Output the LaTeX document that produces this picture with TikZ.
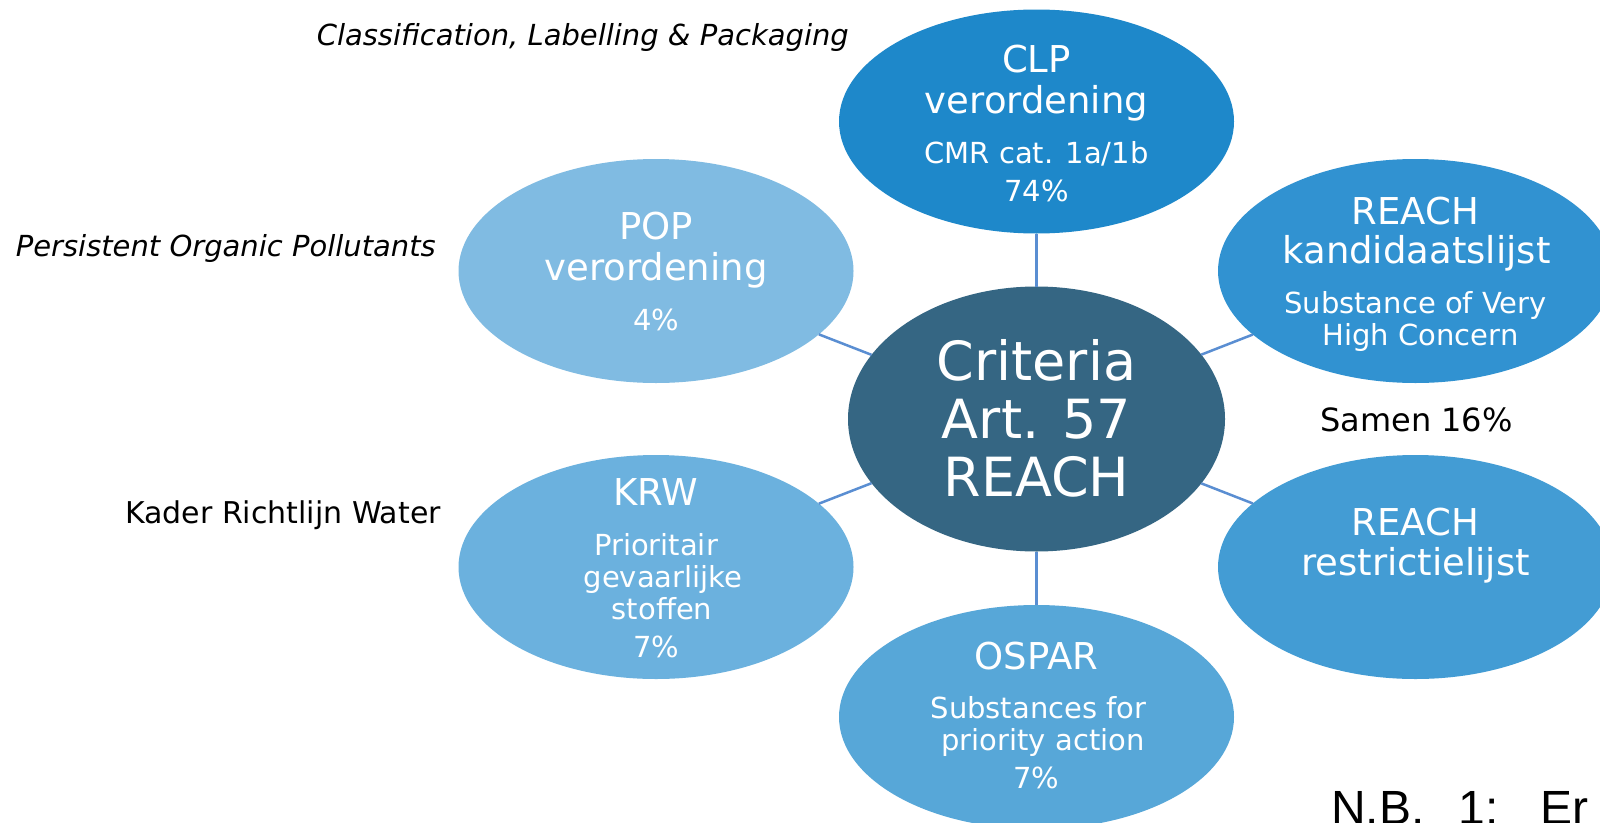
\documentclass[tikz,border=0pt]{standalone}
\usepackage{fontspec}
\setmainfont{DejaVu Sans}
\newfontfamily\nbfont{Liberation Sans}
\usetikzlibrary{shapes.geometric}
\definecolor{cCenter}{RGB}{53,102,131}
\definecolor{cCLP}{RGB}{30,136,202}
\definecolor{cRK}{RGB}{49,146,209}
\definecolor{cRR}{RGB}{67,156,212}
\definecolor{cOSPAR}{RGB}{87,167,216}
\definecolor{cKRW}{RGB}{107,177,222}
\definecolor{cPOP}{RGB}{128,187,226}
\definecolor{cLink}{RGB}{90,142,210}
\begin{document}
\begin{tikzpicture}[x=1pt,y=-1pt,
  blob/.style={ellipse, minimum width=395, minimum height=224, inner sep=0, outer sep=0},
  hub/.style={ellipse, minimum width=377, minimum height=265, inner sep=0, outer sep=0, fill=cCenter},
  ttl/.style={text=white, anchor=base, inner sep=0, font=\fontsize{37}{40}\selectfont},
  hubtxt/.style={text=white, anchor=base, inner sep=0, font=\fontsize{54}{58}\selectfont},
  subt/.style={text=white, anchor=base, inner sep=0, font=\fontsize{29}{32}\selectfont},
  lbl/.style={text=black, anchor=base east, inner sep=0, font=\fontsize{29}{34}\selectfont\itshape},
  plainlbl/.style={text=black, anchor=base east, inner sep=0, font=\fontsize{30}{34}\selectfont},
  link/.style={draw=cLink, line width=2.5pt}]
\useasboundingbox (0,0) rectangle (1600,822);
\clip (0,0) rectangle (1600,822);
\fill[white] (0,0) rectangle (1600,822);

% ellipses
\node[hub] (hub) at (1036.5,419) {};
\node[blob, fill=cCLP] (clp) at (1036.5,121.5) {};
\node[blob, fill=cRK] (rk) at (1415.5,271) {};
\node[blob, fill=cRR] (rr) at (1415.5,567) {};
\node[blob, fill=cOSPAR] (ospar) at (1036.5,717) {};
\node[blob, fill=cKRW] (krw) at (656,567) {};
\node[blob, fill=cPOP] (pop) at (656,271) {};

% connectors
\draw[link] (hub) -- (clp);
\draw[link] (hub) -- (rk);
\draw[link] (hub) -- (rr);
\draw[link] (hub) -- (ospar);
\draw[link] (hub) -- (krw);
\draw[link] (hub) -- (pop);

% hub text
\node[hubtxt] (h1) at (1036.5,380) {Criteria};
\node[hubtxt] (h2) at (1036.5,438) {Art. 57};
\node[hubtxt] (h3) at (1036.5,496) {REACH};

% CLP
\node[ttl] (clp1) at (1036.5,72.5) {CLP};
\node[ttl] (clp2) at (1036.5,113) {verordening};
\node[subt] (clp3) at (1036.5,163.5) {CMR cat. 1a/1b};
\node[subt] (clp4) at (1036.5,201) {74\%};

% REACH kandidaatslijst
\node[ttl] (rk1) at (1415.5,224) {REACH};
\node[ttl] (rk2) at (1416.5,263.5) {kandidaatslijst};
\node[subt] (rk3) at (1415.5,313.5) {Substance of Very};
\node[subt] (rk4) at (1420.5,345.5) {High Concern};

% POP
\node[ttl] (pop1) at (656,239) {POP};
\node[ttl] (pop2) at (656,280.5) {verordening};
\node[subt] (pop3) at (656,330) {4\%};

% KRW
\node[ttl] (krw1) at (656,505) {KRW};
\node[subt] (krw2) at (656,555) {Prioritair};
\node[subt] (krw3) at (663,587) {gevaarlijke};
\node[subt] (krw4) at (662,619) {stoffen};
\node[subt] (krw5) at (656,657) {7\%};

% REACH restrictielijst
\node[ttl] (rr1) at (1415.5,535.7) {REACH};
\node[ttl] (rr2) at (1415.5,575) {restrictielijst};

% OSPAR
\node[ttl] (os1) at (1036.5,669) {OSPAR};
\node[subt] (os2) at (1038.5,718.3) {Substances for};
\node[subt] (os3) at (1043,750.5) {priority action};
\node[subt] (os4) at (1036.5,788.3) {7\%};

% outer labels
\node[lbl] (lclp) at (849,45) {Classification, Labelling \& Packaging};
\node[lbl] (lpop) at (436,256) {Persistent Organic Pollutants};
\node[plainlbl] (lkrw) at (441,523) {Kader Richtlijn Water};
\node[text=black, anchor=base, inner sep=0, font=\fontsize{32}{36}\selectfont] (samen) at (1416.5,431.5) {Samen 16\%};
\node[text=black, anchor=base west, inner sep=0, font=\nbfont\fontsize{48}{52}\selectfont] (nb) at (1331,824) {N.B.\hspace{34pt}1:\hspace{42pt}Er};
\end{tikzpicture}
\end{document}
